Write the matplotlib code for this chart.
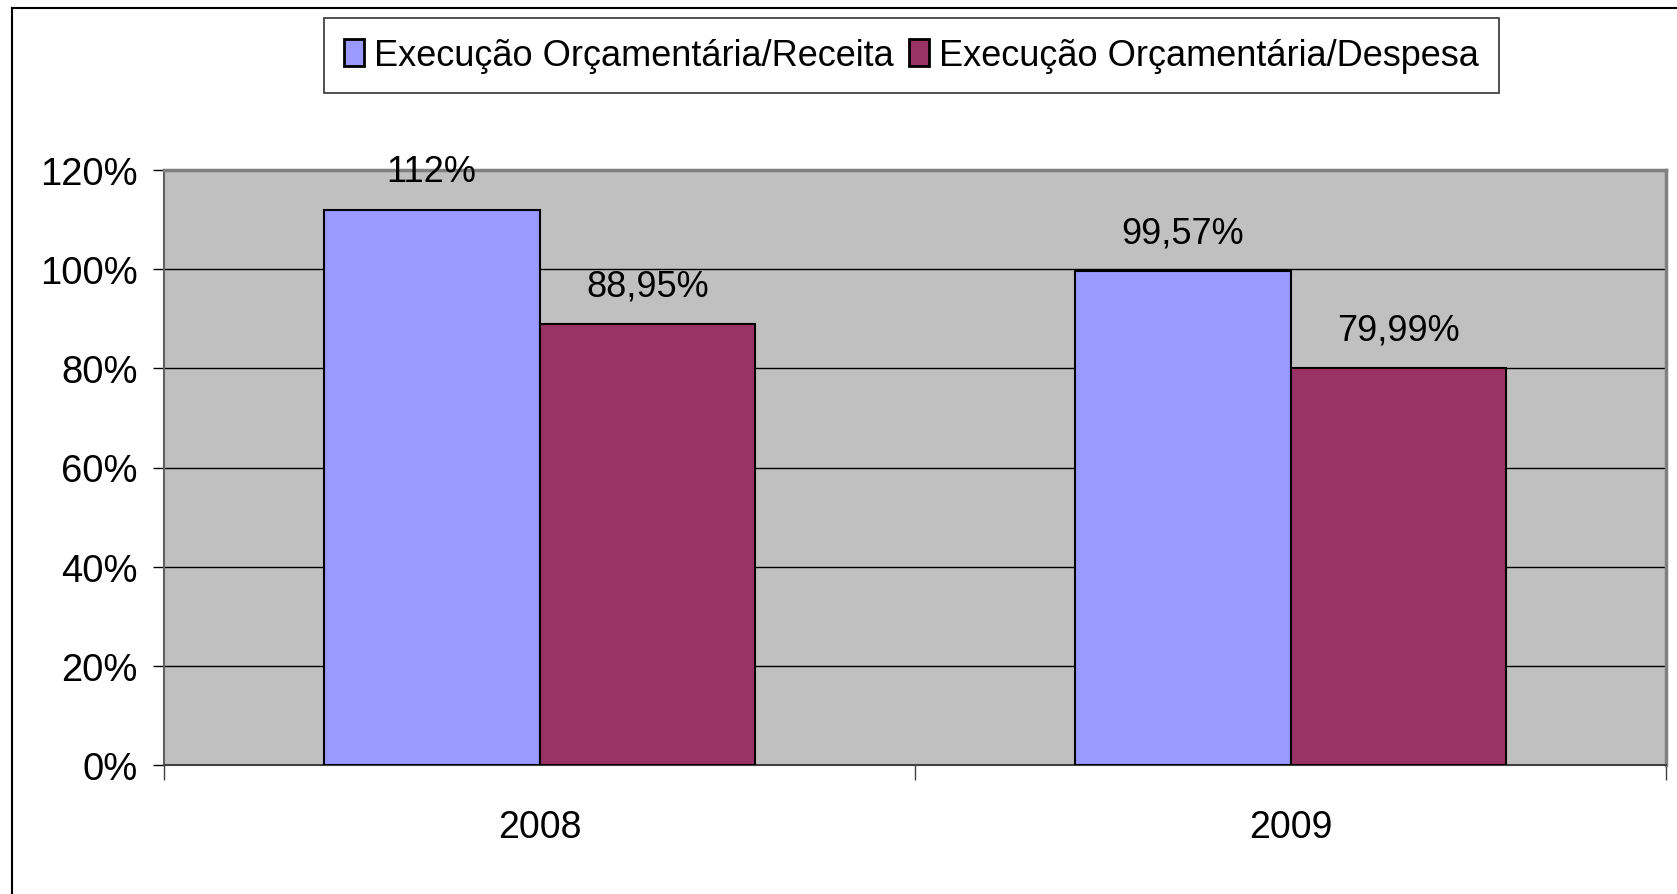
import matplotlib
matplotlib.use("Agg")
import matplotlib.pyplot as plt
from matplotlib.lines import Line2D
from matplotlib.patches import Patch
from matplotlib.ticker import FuncFormatter, FixedLocator

plt.rcParams['font.family'] = ['Liberation Sans', 'DejaVu Sans']

categories = ["2008", "2009"]
series_names = ["Execução Orçamentária/Receita", "Execução Orçamentária/Despesa"]
receita = [112.0, 99.57]
despesa = [88.95, 79.99]
receita_labels = ["112%", "99,57%"]
despesa_labels = ["88,95%", "79,99%"]
yticks = [0, 20, 40, 60, 80, 100, 120]

colors = ["#9999FF", "#993366"]

W, H = 1677, 895
fig = plt.figure(figsize=(W / 100, H / 100), dpi=100)

# outer chart frame (left and top visible only)
fig.add_artist(Line2D([12 / W, 12 / W], [0, 1 - 9 / H], transform=fig.transFigure, color="black", lw=1.5))
fig.add_artist(Line2D([12 / W, 1], [1 - 9 / H, 1 - 9 / H], transform=fig.transFigure, color="black", lw=1.5))

left, right, top, bottom = 164, 1666, 171, 766
ax = fig.add_axes([left / W, 1 - bottom / H, (right - left) / W, (bottom - top) / H])
ax.set_facecolor("#C0C0C0")

x = list(range(len(categories)))
bw = 0.2875
b1 = ax.bar([i - bw / 2 for i in x], receita, width=bw, color=colors[0], edgecolor="black", linewidth=1.5, zorder=3)
b2 = ax.bar([i + bw / 2 for i in x], despesa, width=bw, color=colors[1], edgecolor="black", linewidth=1.5, zorder=3)

for rect, lab in zip(b1, receita_labels):
    ax.annotate(lab, (rect.get_x() + rect.get_width() / 2, rect.get_height()), xytext=(0, 15),
                textcoords="offset points", ha="center", va="bottom", fontsize=26)
for rect, lab in zip(b2, despesa_labels):
    ax.annotate(lab, (rect.get_x() + rect.get_width() / 2, rect.get_height()), xytext=(0, 15),
                textcoords="offset points", ha="center", va="bottom", fontsize=26)

ax.set_xlim(-0.5, len(categories) - 0.5)
ax.set_ylim(0, 120)
ax.yaxis.set_major_locator(FixedLocator(yticks))
ax.yaxis.set_major_formatter(FuncFormatter(lambda v, p: f"{v:.0f}%"))
ax.grid(axis="y", color="black", linewidth=1, zorder=1)
ax.tick_params(axis="y", direction="out", length=8, width=1, labelsize=27.5, pad=11)

ax.set_xticks(x)
ax.set_xticklabels(categories)
ax.tick_params(axis="x", which="major", length=0, labelsize=27, pad=32)
ax.set_xticks([-0.5, 0.5, 1.5], minor=True)
ax.tick_params(axis="x", which="minor", direction="out", length=11, width=1, color="#404040")

for s in ["top", "right"]:
    ax.spines[s].set_color("#808080")
    ax.spines[s].set_linewidth(2.5)
ax.spines["left"].set_color("#606060")
ax.spines["left"].set_linewidth(1.5)
ax.spines["bottom"].set_color("#404040")
ax.spines["bottom"].set_linewidth(1.5)

handles = [Patch(facecolor=c, edgecolor="black", linewidth=2) for c in colors]
leg = fig.legend(handles, series_names, ncol=2, loc="center",
                 bbox_to_anchor=((329 + 1494) / 2 / W, 1 - (19 + 94) / 2 / H),
                 fontsize=26, frameon=True, fancybox=False, edgecolor="black",
                 handlelength=0.55, handleheight=0.75, handletextpad=0.3, columnspacing=0.4,
                 borderpad=0.55, borderaxespad=0)
leg.get_frame().set_linewidth(1.2)

fig.savefig("out.png", dpi=100)
